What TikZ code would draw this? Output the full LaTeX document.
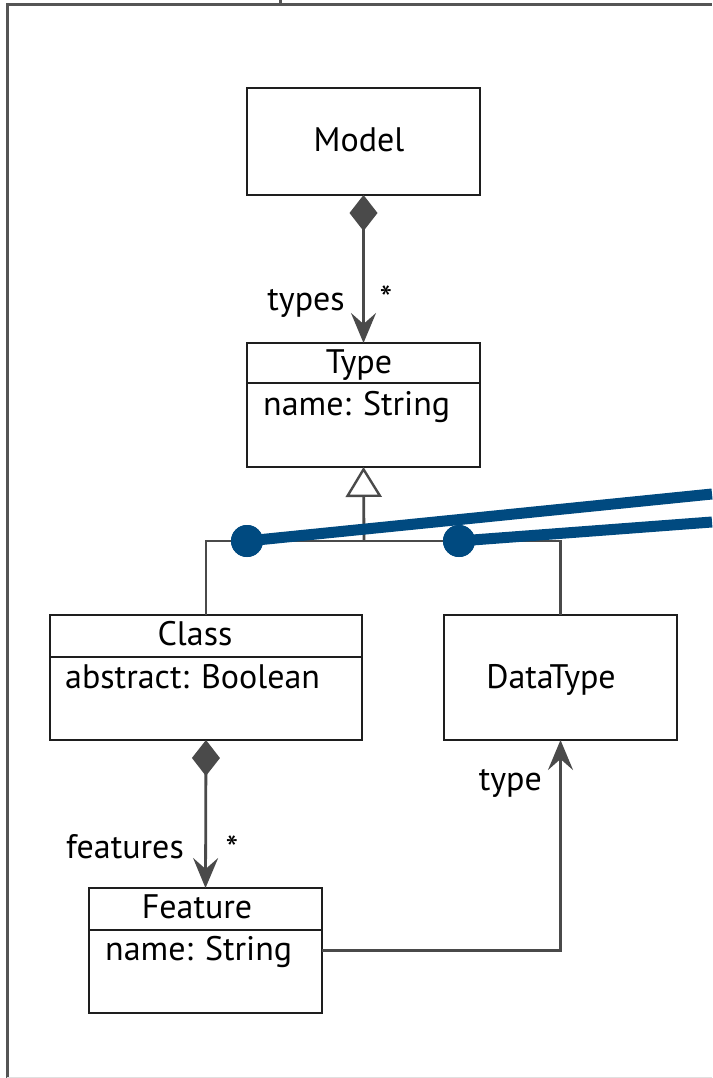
\documentclass[tikz,border=0pt]{standalone}
\usepackage{fontspec}
\setmainfont{PT Sans}
\usetikzlibrary{arrows.meta}
\definecolor{boxc}{HTML}{1E1E1E}
\definecolor{linec}{HTML}{4A4A4A}
\definecolor{framec}{HTML}{555555}
\definecolor{blu}{HTML}{004A80}
\begin{document}
\begin{tikzpicture}[x=1pt,y=-1pt,
  cls/.style={draw=boxc,line width=2.6pt,fill=white,inner sep=0pt,outer sep=0pt,anchor=north west,rectangle},
  lbl/.style={inner sep=0pt,font=\fontsize{34}{36}\selectfont,text=black},
  star/.style={inner sep=0pt,font=\fontsize{36}{38}\selectfont,text=black},
  conn/.style={draw=linec,line width=2.8pt},
  comp/.style={conn,{Diamond[length=36pt,width=28pt,fill=linec,color=linec]}-{Stealth[length=30pt,width=25pt,inset=11pt,color=linec]}},
  nav/.style={conn,-{Stealth[length=30pt,width=25pt,inset=11pt,color=linec]}},
  gen/.style={conn,-{Triangle[length=30pt,width=36pt,open,fill=white,color=linec,line width=2.4pt]}},
  divider/.style={draw=boxc,line width=2.6pt},
  dot/.style={circle,fill=blu,minimum size=32pt,inner sep=0pt},
  trace/.style={draw=blu,line width=11pt},
  framel/.style={draw=framec,line width=3pt}
]
\useasboundingbox (0,0) rectangle (712,1078);
\fill[white] (0,0) rectangle (712,1078);
% frame
\draw[framel] (7,1078) -- (7,5) -- (712,5);
\draw[framel] (280,0) -- (280,5);
\draw[draw=black!12,line width=1pt] (7,1077.5) -- (712,1077.5);

% class boxes
\node[cls,minimum width=233pt,minimum height=107pt] (model) at (247,88) {};
\node[cls,minimum width=233pt,minimum height=124pt] (type) at (247,343) {};
\node[cls,minimum width=312pt,minimum height=125pt] (class) at (50,615) {};
\node[cls,minimum width=233pt,minimum height=125pt] (dt) at (444,615) {};
\node[cls,minimum width=233pt,minimum height=125pt] (feat) at (89,888) {};

\draw[divider] ([yshift=-40pt]type.north west) -- ([yshift=-40pt]type.north east);
\draw[divider] ([yshift=-42pt]class.north west) -- ([yshift=-42pt]class.north east);
\draw[divider] ([yshift=-42pt]feat.north west) -- ([yshift=-42pt]feat.north east);

% texts
\node[lbl,anchor=base] (tmodel) at (359,152) {Model};
\node[lbl,anchor=base] (ttype) at (359,373) {Type};
\node[lbl,anchor=base west] (atype) at (263,415) {name: String};
\node[lbl,anchor=base] (tclass) at (195,645) {Class};
\node[lbl,anchor=base west] (aclass) at (65,688) {abstract: Boolean};
\node[lbl,anchor=base] (tdt) at (551,688) {DataType};
\node[lbl,anchor=base] (tfeat) at (197,918) {Feature};
\node[lbl,anchor=base west] (afeat) at (105,960) {name: String};

% connectors
\draw[comp] (model.south) -- (type.north);
\node[lbl,anchor=base east] (ltypes) at (345,310) {types};
\node[star] (stypes) at (386,299) {*};

\draw[comp] (class.south) -- (feat.north);
\node[lbl,anchor=base east] (lfeat) at (184,858) {features};
\node[star] (sfeat) at (232,849) {*};

\coordinate (j) at (364,541);
\draw[gen] (j) -- (type.south);
\draw[conn] (class.north) |- (j) -| (dt.north);

\draw[nav] (feat.east) -| (dt.south);
\node[lbl,anchor=base east] (ltype) at (542,790) {type};

% blue traces
\node[dot] (d1) at (247,541) {};
\node[dot] (d2) at (459,541) {};
\coordinate (e1) at (712,494);
\coordinate (e2) at (712,522);
\draw[trace] (d1.center) -- (e1);
\draw[trace] (d2.center) -- (e2);
\node[dot] at (d1) {};
\node[dot] at (d2) {};
\end{tikzpicture}
\end{document}
